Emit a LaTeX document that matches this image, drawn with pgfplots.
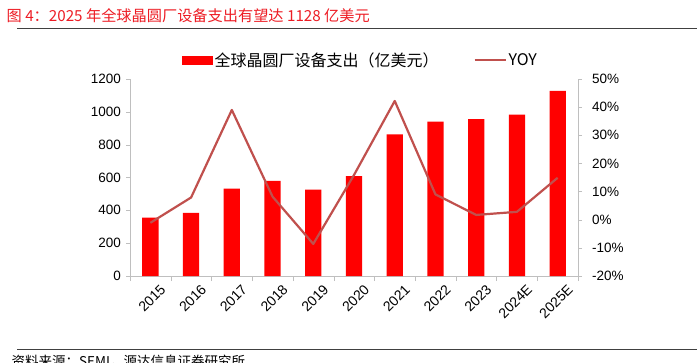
\documentclass[border=0pt]{standalone}
\usepackage{pgfplots}
\pgfplotsset{compat=1.18}
\usepackage{fontspec}
\setmainfont{Liberation Sans}
\newfontfamily\cjk{Noto Sans CJK SC}
\definecolor{barred}{RGB}{255,0,0}
\definecolor{yoyline}{RGB}{192,80,77}
\definecolor{titlered}{RGB}{237,28,36}
\definecolor{axgray}{RGB}{191,191,191}
\definecolor{rulegray}{RGB}{64,64,64}
\begin{document}
\begin{tikzpicture}[x=1bp,y=1bp]
\path[use as bounding box] (0,0) rectangle (697,362);
\node[anchor=west, text=titlered, font=\cjk\fontsize{15.2bp}{17bp}\selectfont, inner sep=0] at (6.5,346) {图 4：2025 年全球晶圆厂设备支出有望达 1128 亿美元};
\draw[line width=1.5bp, rulegray] (17,333.5) -- (697,333.5);
\draw[line width=1.2bp, rulegray] (17,12.5) -- (697,12.5);
\node[anchor=north west, font=\cjk\fontsize{13.5bp}{15bp}\selectfont, inner sep=0] at (11.5,7) {资料来源：SEMI，源达信息证券研究所};

\begin{axis}[
  at={(130bp,86bp)}, anchor=south west, scale only axis,
  width=448bp, height=197bp,
  xmin=-0.5, xmax=10.5, ymin=0, ymax=1200,
  ytick={0,200,...,1200},
  axis y line*=left, axis x line*=bottom,
  xtick={0,...,10},
  xticklabels={2015,2016,2017,2018,2019,2020,2021,2022,2023,2024E,2025E},
  minor xtick={-0.5,0.5,...,10.5},
  tick align=outside, major tick length=4bp, minor tick length=5bp,
  major x tick style={draw=none},
  minor x tick style={axgray},
  tick style={axgray},
  axis line style={axgray},
  ticklabel style={font=\fontsize{13.5bp}{15bp}\selectfont},
  /pgf/number format/assume math mode=true,
  /pgf/number format/1000 sep={},
  yticklabel style={inner sep=0pt, xshift=-5bp},
  xticklabel style={rotate=45, anchor=north east, inner sep=0pt, yshift=-9bp, xshift=4bp, font=\fontsize{14bp}{15bp}\selectfont},
]
\addplot[ybar, bar width=16.3bp, fill=barred, draw=none] coordinates {
(0,356) (1,384) (2,532) (3,579) (4,526) (5,609) (6,863) (7,940) (8,956) (9,983) (10,1128)};
\end{axis}

\begin{axis}[
  at={(130bp,86bp)}, anchor=south west, scale only axis,
  width=448bp, height=197bp,
  xmin=-0.5, xmax=10.5, ymin=-20, ymax=50,
  ytick={-20,-10,...,50},
  yticklabels={-20\%,-10\%,0\%,10\%,20\%,30\%,40\%,50\%},
  axis y line*=right, axis x line=none,
  tick align=outside, major tick length=4bp,
  tick style={axgray},
  axis line style={axgray},
  ticklabel style={font=\fontsize{13.5bp}{15bp}\selectfont},
  yticklabel style={inner sep=0pt, xshift=10bp},
  legend columns=2,
  legend style={at={(0.116,1.096)}, anchor=west, draw=none, fill=none,
    inner xsep=0pt, inner ysep=0pt,
    font=\cjk\fontsize{16bp}{18bp}\selectfont,
    /tikz/every even column/.append style={column sep=33bp}},
]
\addlegendimage{legend image code/.code={\fill[barred] (0bp,-4bp) rectangle (30bp,4bp);}}
\addlegendentry{全球晶圆厂设备支出（亿美元）}
\addplot[yoyline, line width=2.2bp, line join=round,
  legend image code/.code={\draw[yoyline, line width=2bp] (0bp,0bp) -- (31bp,0bp);}]
  coordinates {(0,-1.1) (1,7.9) (2,39.0) (3,8.2) (4,-8.6) (5,15.9) (6,42.2) (7,9.0) (8,1.7) (9,2.8) (10,14.9)};
\addlegendentry{YOY}
\end{axis}
\end{tikzpicture}
\end{document}
